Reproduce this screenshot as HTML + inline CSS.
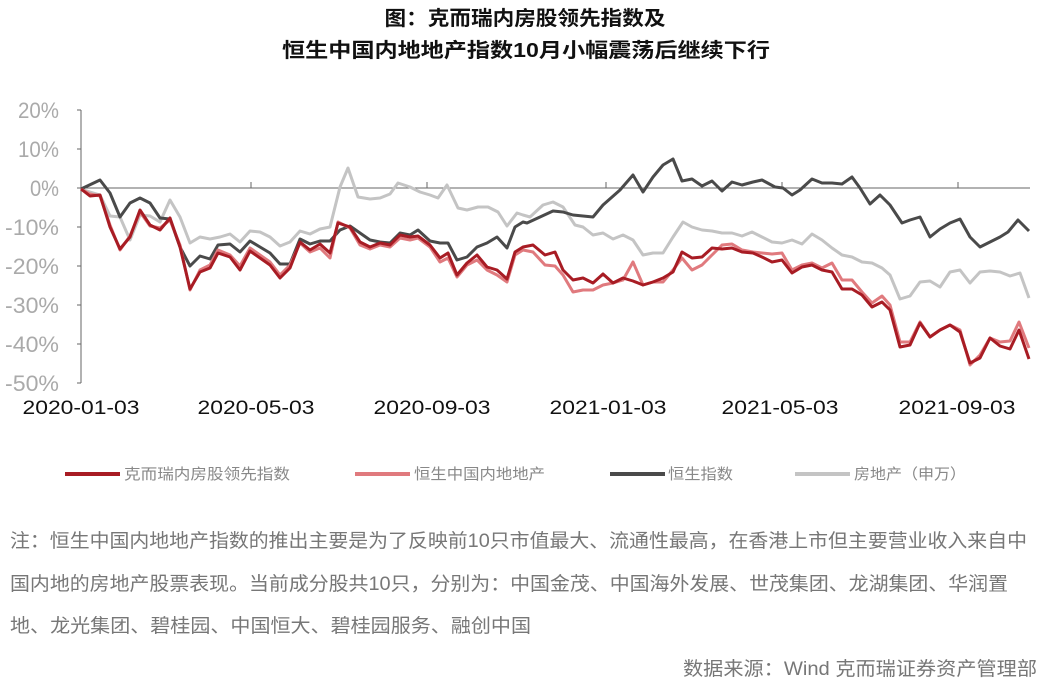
<!DOCTYPE html>
<html><head><meta charset="utf-8"><style>
html,body{margin:0;padding:0;background:#fff;}
svg{display:block;font-family:"Liberation Sans","Noto Sans CJK SC",sans-serif;}
</style></head><body>
<svg width="1051" height="681" viewBox="0 0 1051 681">
<text x="525" y="25" text-anchor="middle" font-size="20" font-weight="bold" fill="#111" textLength="281" lengthAdjust="spacingAndGlyphs">图：克而瑞内房股领先指数及</text>
<text x="526" y="57" text-anchor="middle" font-size="20" font-weight="bold" fill="#111" textLength="488" lengthAdjust="spacingAndGlyphs">恒生中国内地地产指数10月小幅震荡后继续下行</text>
<g font-size="22" fill="#aaa" text-anchor="end">
<text x="59" y="118" textLength="41" lengthAdjust="spacingAndGlyphs">20%</text><text x="59" y="157" textLength="41" lengthAdjust="spacingAndGlyphs">10%</text><text x="59" y="196" textLength="29" lengthAdjust="spacingAndGlyphs">0%</text>
<text x="59" y="235" textLength="54" lengthAdjust="spacingAndGlyphs">-10%</text><text x="59" y="274" textLength="54" lengthAdjust="spacingAndGlyphs">-20%</text><text x="59" y="313" textLength="54" lengthAdjust="spacingAndGlyphs">-30%</text>
<text x="59" y="352" textLength="54" lengthAdjust="spacingAndGlyphs">-40%</text><text x="59" y="391" textLength="54" lengthAdjust="spacingAndGlyphs">-50%</text>
</g>
<g stroke="#666" stroke-width="1" fill="none">
<line x1="81" y1="110" x2="81" y2="383"/>
<line x1="81" y1="188" x2="1030" y2="188"/>
<line x1="77" y1="110" x2="81" y2="110"/><line x1="77" y1="149" x2="81" y2="149"/><line x1="77" y1="188" x2="81" y2="188"/><line x1="77" y1="227" x2="81" y2="227"/><line x1="77" y1="266" x2="81" y2="266"/><line x1="77" y1="305" x2="81" y2="305"/><line x1="77" y1="344" x2="81" y2="344"/><line x1="77" y1="383" x2="81" y2="383"/>
<line x1="251" y1="182" x2="251" y2="188"/><line x1="427" y1="182" x2="427" y2="188"/><line x1="606" y1="182" x2="606" y2="188"/><line x1="782" y1="182" x2="782" y2="188"/><line x1="958" y1="182" x2="958" y2="188"/>
</g>
<g font-size="19" fill="#111" text-anchor="middle">
<text x="81" y="414" textLength="117" lengthAdjust="spacingAndGlyphs">2020-01-03</text><text x="256" y="414" textLength="117" lengthAdjust="spacingAndGlyphs">2020-05-03</text><text x="432" y="414" textLength="117" lengthAdjust="spacingAndGlyphs">2020-09-03</text>
<text x="608" y="414" textLength="117" lengthAdjust="spacingAndGlyphs">2021-01-03</text><text x="780" y="414" textLength="117" lengthAdjust="spacingAndGlyphs">2021-05-03</text><text x="957" y="414" textLength="117" lengthAdjust="spacingAndGlyphs">2021-09-03</text>
</g>
<g fill="none" stroke-width="3" stroke-linejoin="round">
<polyline stroke="#c4c4c4" points="81,189 90,192 100,195 110,216 120,217 130,240 140,215 150,216 160,222 170,200 180,217 190,243 200,237 210,239 220,237 230,234 240,242 250,231 260,232 270,237 280,246 290,242 300,231 310,234 320,229 330,227 340,187 348,168 358,197 370,199 380,198 390,194 398,183 410,187 420,192 430,195 438,198 447,185 458,208 467,210 478,207 488,207 498,212 507,226 517,213 523,215 530,217 543,205 553,202 563,207 575,225 583,227 593,235 603,233 613,239 623,235 633,240 643,255 653,253 663,253 673,237 683,222 692,227 702,230 712,231 722,233 732,233 742,236 752,232 762,237 772,242 782,243 792,240 802,244 812,234 822,240 832,248 842,255 852,257 862,262 872,263 882,268 890,275 900,299 910,296 920,282 930,281 940,287 950,272 960,270 970,283 980,272 990,271 1000,272 1010,276 1020,273 1029,298"/>
<polyline stroke="#4a4a4a" points="81,189 100,180 110,193 120,217 130,203 140,198 150,203 160,218 170,219 180,247 190,266 200,256 210,259 218,245 230,244 240,252 250,241 260,247 270,253 280,264 290,264 300,239 310,244 320,241 330,241 340,230 350,226 360,233 370,240 380,242 390,243 400,233 410,235 418,230 430,241 440,243 448,243 457,260 467,257 477,247 487,243 497,237 507,248 515,227 523,222 527,223 540,217 553,211 563,212 573,215 593,217 603,205 620,190 633,175 643,192 653,177 663,165 673,159 682,181 692,179 702,186 712,181 722,191 732,182 742,185 753,182 762,180 775,187 783,188 792,195 800,190 812,179 822,183 832,183 842,184 852,177 860,188 870,204 880,195 890,205 902,223 910,220 920,217 930,237 940,229 950,223 960,219 970,237 980,247 990,242 1000,237 1008,232 1018,220 1029,231"/>
<polyline stroke="#e07a7e" points="81,189 90,194 100,196 110,225 120,250 130,236 140,212 150,226 160,228 170,220 180,245 190,290 200,270 210,265 218,250 230,255 240,266 250,248 260,255 270,262 280,275 290,265 300,243 310,252 320,248 330,258 338,222 350,228 360,245 370,249 380,245 390,247 400,238 410,240 418,238 430,247 440,262 448,258 457,277 467,265 477,260 487,270 497,275 507,282 515,255 523,250 533,252 545,265 555,266 563,275 573,292 583,290 593,290 603,285 613,283 623,280 633,262 643,285 653,282 663,282 673,270 682,258 692,270 702,265 712,255 722,245 732,244 742,250 753,252 762,253 772,254 782,253 792,270 802,265 812,263 822,268 832,263 842,280 852,280 862,292 872,303 882,296 890,305 900,342 910,342 920,322 930,337 940,330 950,325 960,330 970,365 980,355 990,338 1000,342 1010,341 1019,322 1029,348"/>
<polyline stroke="#a81c24" points="81,189 90,196 100,195 110,227 120,249 130,237 140,210 150,225 160,230 170,218 180,247 190,289 200,272 210,268 218,253 230,257 240,270 250,251 260,258 270,265 280,278 290,268 300,242 310,250 320,244 330,253 338,223 350,227 360,242 370,247 380,243 390,245 400,235 410,237 418,236 430,245 440,258 448,253 457,275 467,263 477,255 487,267 497,270 507,279 515,252 523,247 533,245 545,255 555,252 563,270 573,280 583,278 593,283 603,274 613,283 623,278 633,281 643,285 653,282 663,278 673,272 682,252 692,258 702,257 712,248 722,249 732,248 742,252 753,253 762,257 772,262 782,260 792,273 802,267 812,265 822,270 832,272 842,289 852,289 862,295 872,307 882,302 890,310 900,347 910,345 920,323 930,337 940,330 950,325 960,332 970,363 980,358 990,338 1000,346 1010,349 1019,330 1029,359"/>
</g>
<g stroke-width="4">
<line x1="65" y1="474" x2="120" y2="474" stroke="#a81c24"/>
<line x1="355" y1="474" x2="410" y2="474" stroke="#e07a7e"/>
<line x1="610" y1="474" x2="665" y2="474" stroke="#4a4a4a"/>
<line x1="795" y1="474" x2="850" y2="474" stroke="#c4c4c4"/>
</g>
<g font-size="15" fill="#888">
<text x="124" y="479" textLength="166" lengthAdjust="spacingAndGlyphs">克而瑞内房股领先指数</text>
<text x="414" y="479" textLength="131" lengthAdjust="spacingAndGlyphs">恒生中国内地地产</text>
<text x="668" y="479" textLength="65" lengthAdjust="spacingAndGlyphs">恒生指数</text>
<text x="854" y="479" textLength="112" lengthAdjust="spacingAndGlyphs">房地产（申万）</text>
</g>
<g font-size="19" fill="#777">
<text x="10" y="547" textLength="1017" lengthAdjust="spacingAndGlyphs">注：恒生中国内地地产指数的推出主要是为了反映前10只市值最大、流通性最高，在香港上市但主要营业收入来自中</text>
<text x="10" y="590" textLength="998" lengthAdjust="spacingAndGlyphs">国内地的房地产股票表现。当前成分股共10只，分别为：中国金茂、中国海外发展、世茂集团、龙湖集团、华润置</text>
<text x="10" y="632" textLength="521" lengthAdjust="spacingAndGlyphs">地、龙光集团、碧桂园、中国恒大、碧桂园服务、融创中国</text>
<text x="683" y="675" textLength="354" lengthAdjust="spacingAndGlyphs">数据来源：Wind 克而瑞证券资产管理部</text>
</g>
</svg>
</body></html>
